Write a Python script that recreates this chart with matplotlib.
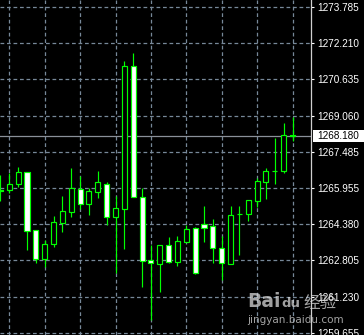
import numpy as np
import matplotlib
matplotlib.use('Agg')
import matplotlib.pyplot as plt
from matplotlib.patches import Rectangle
import matplotlib.transforms as mtransforms

# OHLC свечи (цены)
opens = [1265.85, 1265.853, 1266.10, 1266.632, 1264.11, 1262.855, 1263.517, 1264.438, 1264.914, 1265.884,
         1265.248, 1265.754, 1266.113, 1264.672, 1265.018, 1271.189, 1265.537, 1262.824, 1262.651, 1263.473,
         1262.751, 1263.616, 1264.196, 1264.382, 1264.265, 1263.331, 1262.651, 1264.815, 1264.815, 1265.39,
         1266.213, 1266.676, 1266.676, 1268.233]
highs = [1266.50, 1266.60, 1266.862, 1266.632, 1264.11, 1263.69, 1264.728, 1265.594, 1266.792, 1266.459,
         1265.927, 1266.688, 1266.213, 1265.594, 1271.435, 1271.769, 1265.927, 1263.473, 1263.473, 1263.833,
         1263.863, 1264.339, 1264.265, 1265.161, 1264.586, 1263.863, 1265.161, 1265.161, 1265.39, 1266.373,
         1266.792, 1268.091, 1268.765, 1268.999]
lows = [1265.38, 1265.724, 1265.996, 1263.257, 1262.708, 1262.521, 1263.40, 1264.049, 1264.698, 1265.018,
        1264.772, 1265.494, 1264.339, 1262.249, 1263.287, 1265.537, 1261.643, 1260.228, 1261.453, 1262.682,
        1262.565, 1263.616, 1262.219, 1263.616, 1262.708, 1261.959, 1262.651, 1263.041, 1264.525, 1265.105,
        1265.451, 1266.113, 1266.602, 1267.987]
closes = [1265.83, 1266.083, 1266.602, 1264.092, 1262.855, 1263.517, 1264.438, 1264.914, 1265.927, 1265.248,
          1265.78, 1266.169, 1264.698, 1265.061, 1271.189, 1265.537, 1262.794, 1262.682, 1263.473, 1262.751,
          1263.616, 1264.153, 1262.249, 1264.196, 1263.331, 1262.682, 1264.772, 1264.815, 1265.39, 1266.213,
          1266.645, 1266.676, 1268.233, 1268.18]

price_ticks = [1273.785, 1272.210, 1270.635, 1269.060, 1267.485, 1265.955, 1264.380, 1262.805, 1261.230, 1259.655]
price_labels = ['1273.785', '1272.210', '1270.635', '1269.060', '1267.485', '1265.955', '1264.380',
                '1262.805', '1261.230', '1259.655']
last_price = 1268.180

green = '#00ff00'
grid_c = '#778899'

fig = plt.figure(figsize=(3.64, 3.35), dpi=100, facecolor='black')
ax = fig.add_axes([0, 0, 311 / 364, 1])
ax.set_facecolor('black')

x = np.arange(len(opens))
ax.set_xlim(-0.051, 35.09)
ax.set_ylim(1259.579, 1274.075)

# сетка
ax.set_xticks(x[1::4])
ax.set_yticks(price_ticks)
ax.grid(True, color=grid_c, linestyle=(0, (3, 2.2)), linewidth=0.9)
ax.set_axisbelow(True)

# текущая цена
ax.axhline(last_price, color='#8a9099', linewidth=0.9, zorder=1)

# свечи
w = 0.57
for i in range(len(opens)):
    o, h, l, c = opens[i], highs[i], lows[i], closes[i]
    ax.vlines(x[i], l, h, color=green, linewidth=0.85, zorder=2)
    fill = 'black' if c > o else 'white'
    ax.bar(x[i], abs(c - o) + 0.01, width=w, bottom=min(o, c), color=fill,
           edgecolor=green, linewidth=0.85, zorder=3)

# оси
for s in ['top', 'left', 'bottom']:
    ax.spines[s].set_visible(False)
ax.spines['right'].set_color('#d0d0d0')
ax.spines['right'].set_linewidth(0.9)
ax.tick_params(axis='x', length=0, labelbottom=False)
ax.yaxis.tick_right()
ax.tick_params(axis='y', colors='white', length=2.2, width=0.8, pad=2.4)
ax.set_yticklabels(price_labels, fontsize=7.2, family='Liberation Sans', color='white')

# метка текущей цены
tr = mtransforms.blended_transform_factory(ax.transAxes, ax.transData)
ax.add_patch(Rectangle((1.005, last_price - 0.255), 0.17, 0.51, transform=tr,
                       facecolor='white', edgecolor='none', clip_on=False, zorder=5))
ax.text(1.02, last_price, '1268.180', transform=tr, fontsize=7.2, family='Liberation Sans',
        color='black', va='center', ha='left', clip_on=False, zorder=6)

# водяной знак
wm = '#d8d8d8'
fig.text(0.678, 0.085, 'Bai', fontsize=13.5, fontweight='bold', color=wm, alpha=0.75)
fig.text(0.772, 0.085, 'du', fontsize=9.5, fontweight='bold', color=wm, alpha=0.75)
fig.text(0.835, 0.082, '经验', fontsize=12, family=['Noto Sans CJK SC', 'DejaVu Sans'],
         color=wm, alpha=0.75)
fig.text(0.68, 0.037, 'jingyan.baidu.com', fontsize=7.5, color=wm, alpha=0.75)

fig.savefig('out.png', dpi=100, facecolor='black')
